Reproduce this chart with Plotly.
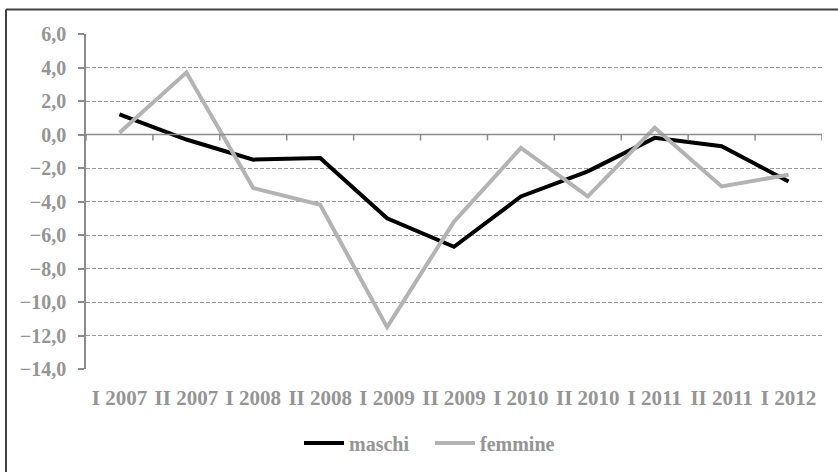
import plotly.graph_objects as go

categories = ["I 2007", "II 2007", "I 2008", "II 2008", "I 2009", "II 2009",
              "I 2010", "II 2010", "I 2011", "II 2011", "I 2012"]
maschi = [1.2, -0.3, -1.5, -1.4, -5.0, -6.7, -3.7, -2.2, -0.2, -0.7, -2.8]
femmine = [0.1, 3.7, -3.2, -4.2, -11.5, -5.2, -0.8, -3.7, 0.4, -3.1, -2.4]
y_ticks = [6, 4, 2, 0, -2, -4, -6, -8, -10, -12, -14]

W, H = 838, 472
L, R, T, B = 86, 16, 34, 103
pw, ph = W - L - R, H - T - B

FONT = "Liberation Serif"
GRAY = "#959595"
AXIS = "#8c8c8c"

fig = go.Figure()
fig.add_trace(go.Scatter(x=categories, y=maschi, name="maschi", mode="lines",
                         line=dict(color="#000000", width=4)))
fig.add_trace(go.Scatter(x=categories, y=femmine, name="femmine", mode="lines",
                         line=dict(color="#b3b3b3", width=4)))

shapes = []
# category boundary ticks on the zero line
for k in range(len(categories) + 1):
    shapes.append(dict(type="line", xref="x", yref="y", ysizemode="pixel", yanchor=0,
                       x0=k - 0.5, x1=k - 0.5, y0=0, y1=-6,
                       line=dict(color=AXIS, width=1.5)))
# zero axis line
shapes.append(dict(type="line", xref="x", yref="y", x0=-0.5, x1=len(categories) - 0.5,
                   y0=0, y1=0, line=dict(color=AXIS, width=1.5)))
# outer frame (only left and top visible)
fx = (6 - L) / pw
fy = (H - B - 9.5) / ph
shapes.append(dict(type="line", xref="paper", yref="paper", x0=fx, x1=fx, y0=fy, y1=-1,
                   line=dict(color="#404040", width=2)))
shapes.append(dict(type="line", xref="paper", yref="paper", x0=fx, x1=2, y0=fy, y1=fy,
                   line=dict(color="#404040", width=2)))

fig.update_layout(
    width=W, height=H,
    margin=dict(l=L, r=R, t=T, b=B, autoexpand=False),
    paper_bgcolor="white", plot_bgcolor="white",
    separators=",.",
    font=dict(family=FONT, size=20, color=GRAY),
    showlegend=True,
    legend=dict(orientation="h", x=(299 - L) / pw, xanchor="left",
                y=(H - B - 443) / ph, yanchor="middle",
                font=dict(family=FONT, size=20, color=GRAY, weight="bold"),
                itemwidth=40, entrywidth=76, entrywidthmode="pixels", tracegroupgap=0),
    shapes=shapes,
    xaxis=dict(type="category", range=[-0.5, len(categories) - 0.5],
               showgrid=False, zeroline=False, showline=False, ticks="",
               tickfont=dict(family=FONT, size=21, color=GRAY, weight="bold"),
               ticklabelstandoff=14),
    yaxis=dict(range=[-14, 6], tickvals=y_ticks, tickformat=".1f",
               showgrid=True, gridcolor="#9a9a9a", gridwidth=1, griddash="4px,2px",
               zeroline=False, showline=True, linecolor=AXIS, linewidth=1.5,
               ticks="outside", ticklen=6, tickcolor=AXIS, tickwidth=1.5,
               tickfont=dict(family=FONT, size=20, color=GRAY, weight="bold"),
               ticklabelstandoff=8),
)

fig.write_html("out.html", config={"displayModeBar": False},
               post_script="document.body.style.margin='0';")
